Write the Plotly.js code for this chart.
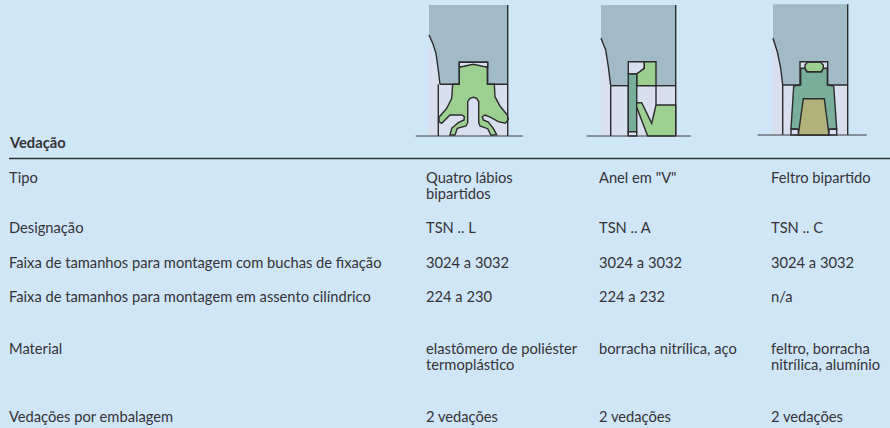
<!DOCTYPE html>
<html><head><meta charset="utf-8">
<script src="https://cdn.plot.ly/plotly-3.0.1.min.js"></script>
<style>html,body{margin:0;padding:0;background:#cfe6f7;overflow:hidden}#c{width:890px;height:428px}</style>
</head><body><div id="c"></div>
<script>
const rowLabels=["Tipo","Designação","Faixa de tamanhos para montagem com buchas de fixação","Faixa de tamanhos para montagem em assento cilíndrico","Material","Vedações por embalagem"];
const col1=[["Quatro lábios","bipartidos"],["TSN .. L"],["3024 a 3032"],["224 a 230"],["elastômero de poliéster","termoplástico"],["2 vedações"]];
const col2=[['Anel em "V"'],["TSN .. A"],["3024 a 3032"],["224 a 232"],["borracha nitrílica, aço"],["2 vedações"]];
const col3=[["Feltro bipartido"],["TSN .. C"],["3024 a 3032"],["n/a"],["feltro, borracha","nitrílica, alumínio"],["2 vedações"]];
const header="Vedação";

const rowY=[176.5,226.5,261.5,296,347.5,416], lineGap=16, colX=[425,598,770], labelX=8, fontSize=14.7;
const BG="#cfe6f7",HOUSE="#a0bac8",LIGHT="#d8dfee",GREEN="#9dd090",TEAL="#79ae9a",OLIVE="#b0b27a",INK="#2b2b2e";

const seal1={o:[400,0],parts:[
 [LIGHT,[[87,105],[120,253],[323,253],[323,408],[87,408]],0],
 [HOUSE,[[87,15],[323,15],[323,253],[263,253],[263,187],[178,187],[178,253],[120,253],[115,210],[108,160],[98,130],[87,105]],0],
 [LIGHT,[[178,187],[263,187],[263,200],[178,200]],1],
 [GREEN,[[178,202],[220,193],[262,202],[262,253],[283,253],[285,290],[300,318],[322,345],[325,358],[316,370],[295,365],[272,352],[255,345],[247,350],[250,360],[265,366],[280,385],[290,404],[273,406],[263,386],[240,378],[236,368],[236,305],[230,295],[220,292],[210,295],[203,305],[203,368],[198,378],[172,385],[165,405],[150,405],[155,385],[175,368],[192,360],[193,350],[185,345],[165,345],[150,345],[125,370],[117,365],[117,352],[140,325],[155,295],[158,253],[178,253]],1]
],lines:[[[323,15],[323,408]],[[120,253],[178,253],[178,187],[263,187],[263,253],[323,253]],[[115,253],[115,408]],[[87,105],[98,130],[108,160],[115,210],[120,253]]],ground:[[47,408],[368,408]]};

const seal2={o:[575,0],parts:[
 [LIGHT,[[78,115],[107,257],[302,257],[302,408],[78,408]],0],
 [HOUSE,[[78,15],[302,15],[302,257],[243,257],[243,185],[160,185],[160,257],[107,257],[100,200],[92,150],[78,115]],0],
 [LIGHT,[[160,185],[208,185],[208,205],[185,222],[160,222]],1],
 [GREEN,[[208,185],[243,185],[243,257],[185,257],[185,222],[208,205]],1],
 [TEAL,[[160,222],[185,222],[185,395],[160,395]],1],
 [LIGHT,[[160,395],[185,395],[185,408],[160,408]],1],
 [GREEN,[[185,308],[200,308],[230,370],[243,315],[302,315],[302,408],[218,408],[185,322]],1]
],lines:[[[302,15],[302,408]],[[107,257],[160,257]],[[243,257],[302,257]],[[243,257],[243,315]],[[107,257],[107,408]],[[78,115],[92,150],[100,200],[107,257]],[[160,257],[160,408]]],ground:[[35,408],[347,408]]};

const seal3={o:[745,0],parts:[
 [LIGHT,[[84,115],[113,255],[308,255],[308,405],[84,405]],0],
 [HOUSE,[[84,13],[308,13],[308,255],[248,255],[248,185],[165,185],[165,255],[113,255],[107,205],[97,155],[84,115]],0],
 [LIGHT,[[165,185],[248,185],[248,207],[165,207]],0],
 [TEAL,[[167,205],[180,205],[185,215],[230,215],[235,205],[247,205],[247,255],[266,258],[275,386],[252,388],[252,405],[160,405],[160,388],[138,386],[146,258],[167,255]],1],
 [OLIVE,[[175,296],[238,296],[252,405],[160,405]],1],
 [LIGHT,[[138,388],[160,388],[160,405],[138,405]],1],
 [LIGHT,[[252,388],[275,388],[275,405],[252,405]],1],
 [GREEN,[[180,195],[188,186],[226,186],[235,195],[235,205],[228,215],[187,215],[180,205]],1]
],lines:[[[308,13],[308,405]],[[113,255],[165,255],[165,185],[248,185],[248,255],[308,255]],[[113,255],[113,405]],[[84,115],[97,155],[107,205],[113,255]]],ground:[[38,405],[365,405]]};

function pathOf(pts,o,close){return pts.map((p,i)=>(i?"L":"M")+(o[0]+p[0]/3).toFixed(1)+" "+(o[1]+p[1]/3).toFixed(1)).join(" ")+(close?" Z":"");}
const shapes=[];
[seal1,seal2,seal3].forEach(s=>{
 s.parts.forEach(([col,pts,stroke])=>shapes.push({type:"path",path:pathOf(pts,s.o,true),fillcolor:col,line:{color:INK,width:stroke?1.4:0},layer:"below"}));
 s.lines.forEach(l=>shapes.push({type:"path",path:pathOf(l,s.o,false),line:{color:INK,width:1.4},layer:"below"}));
 shapes.push({type:"path",path:pathOf(s.ground,s.o,false),line:{color:"#3a3a3d",width:1},layer:"below"});
});
shapes.push({type:"line",x0:9,x1:890,y0:158.5,y1:158.5,line:{color:"#333336",width:1.6}});

const ann=[];
function T(text,x,y,bold){ann.push({text:bold?"<b>"+text+"</b>":text,x,y,xanchor:"left",yanchor:"middle",showarrow:false,xref:"x",yref:"y",align:"left",borderpad:0,
 font:{family:"Lato, 'Open Sans', sans-serif",size:fontSize,color:"#333338"}});}
T(header,labelX,141.5,true);
rowLabels.forEach((t,i)=>T(t,labelX,rowY[i]));
[col1,col2,col3].forEach((col,c)=>col.forEach((lines,r)=>lines.forEach((t,k)=>T(t,colX[c],rowY[r]+k*lineGap))));

Plotly.newPlot("c",[{x:[0,890],y:[0,428],mode:"markers",marker:{opacity:0},hoverinfo:"skip",showlegend:false}],{
 width:890,height:428,margin:{l:0,r:0,t:0,b:0},paper_bgcolor:BG,plot_bgcolor:BG,showlegend:false,
 xaxis:{range:[0,890],visible:false,fixedrange:true},yaxis:{range:[428,0],visible:false,fixedrange:true},
 shapes,annotations:ann
},{displayModeBar:false,staticPlot:true});
</script></body></html>
